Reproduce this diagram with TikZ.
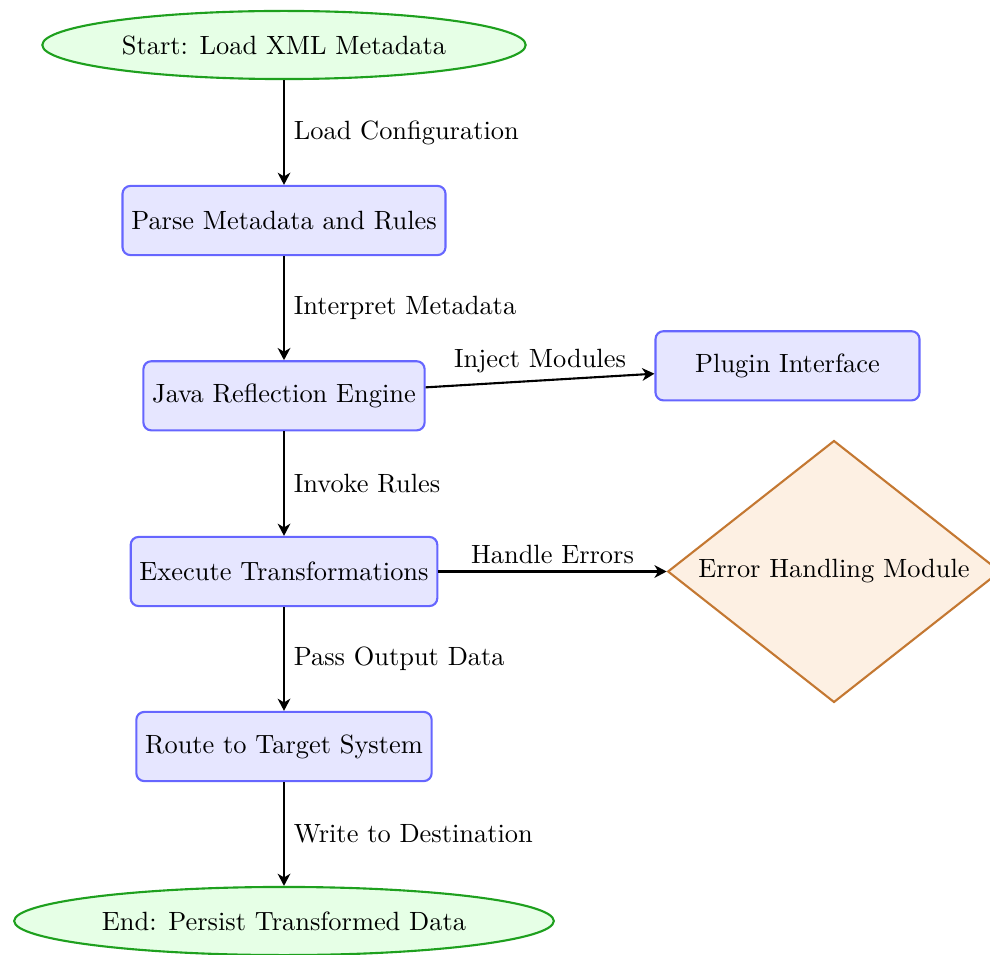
\documentclass[tikz,border=0pt]{standalone}
\usetikzlibrary{shapes.geometric,arrows.meta}
\definecolor{boxfill}{RGB}{230,230,255}
\definecolor{boxdraw}{RGB}{102,102,255}
\definecolor{ellfill}{RGB}{230,255,230}
\definecolor{elldraw}{RGB}{30,160,30}
\definecolor{dfill}{RGB}{253,240,227}
\definecolor{ddraw}{RGB}{196,120,50}
\begin{document}
\begin{tikzpicture}[x=0.3788pt,y=-0.3788pt,
  procbox/.style={rectangle, rounded corners=3pt, draw=boxdraw, fill=boxfill, line width=0.8pt, minimum height=26.2pt, inner sep=3.33pt},
  term/.style={ellipse, draw=elldraw, fill=ellfill, line width=0.8pt, minimum height=25.8pt, inner sep=3.33pt},
  dec/.style={diamond, aspect=1.27, draw=ddraw, fill=dfill, line width=0.8pt, inner sep=2.6pt},
  arr/.style={-{Stealth[length=4.6pt,width=4.8pt,inset=1.4pt]}, line width=0.8pt},
  lbl/.style={inner sep=3.33pt},
  lblup/.style={inner sep=2.6pt}]
\useasboundingbox (0,0) rectangle (990,955);
\node[term] (start) at (284,45) {Start: Load XML Metadata};
\node[procbox] (parse) at (284,220.5) {Parse Metadata and Rules};
\node[procbox] (java) at (284,395.8) {Java Reflection Engine};
\node[procbox, minimum width=100pt] (plugin) at (787.5,365.8) {Plugin Interface};
\node[procbox] (exec) at (284,571.5) {Execute Transformations};
\node[dec] (err) at (834,571.5) {Error Handling Module};
\node[procbox] (route) at (284,746.5) {Route to Target System};
\node[term] (end) at (284,921) {End: Persist Transformed Data};
\draw[arr] (start) -- node[lbl,right] {Load Configuration} (parse);
\draw[arr] (parse) -- node[lbl,right] {Interpret Metadata} (java);
\draw[arr] (java) -- node[lblup,above] {Inject Modules} (plugin);
\draw[arr] (java) -- node[lbl,right] {Invoke Rules} (exec);
\draw[arr] (exec) -- node[lblup,above] {Handle Errors} (err);
\draw[arr] (exec) -- node[lbl,right] {Pass Output Data} (route);
\draw[arr] (route) -- node[lbl,right] {Write to Destination} (end);
\end{tikzpicture}
\end{document}
